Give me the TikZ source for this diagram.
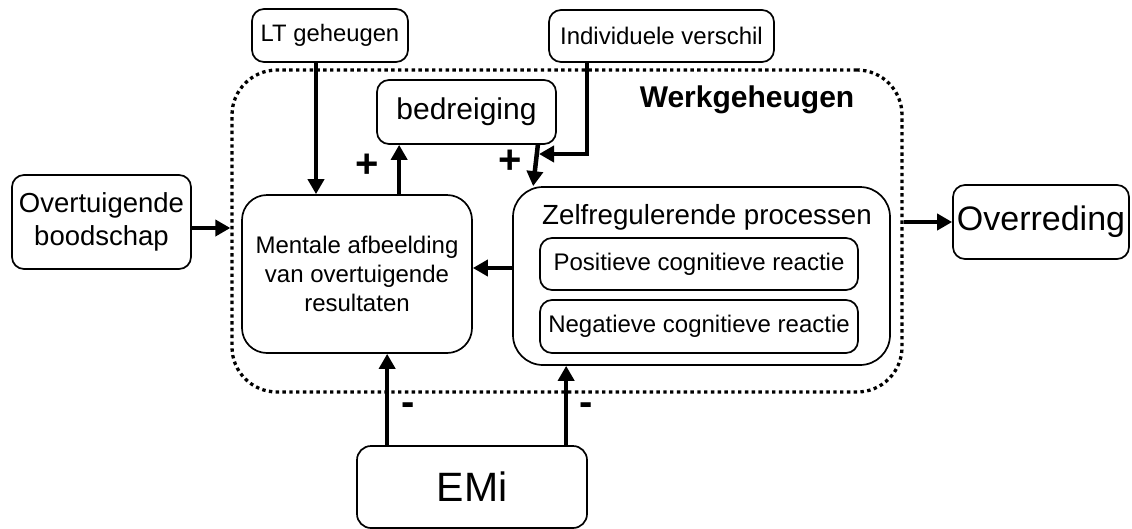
\documentclass[tikz,border=0pt]{standalone}
\usepackage{fontspec}
\setmainfont{Liberation Sans}
\usetikzlibrary{arrows.meta,calc}
\begin{document}
\begin{tikzpicture}[x=1pt,y=-1pt,
  box/.style={draw,line width=1.7pt,rounded corners=12pt,inner sep=0pt,align=center},
  arr/.style={line width=4.5pt,-{Triangle[length=15pt,width=16pt]}},
  sgn/.style={font=\fontsize{40}{40}\selectfont\bfseries,inner sep=0pt}
]
\useasboundingbox (0,0) rectangle (1132,528);
% container
\node[draw,line width=3.3pt,dash pattern=on 3.4pt off 3.4pt,rounded corners=45pt,minimum width=670pt,minimum height=322pt,inner sep=0pt] (wg) at (567,231) {};
\node[font=\fontsize{30}{30}\selectfont\bfseries,inner sep=0pt] (wgt) at (747,100) {Werkgeheugen};
% boxes
\node[box,minimum width=156pt,minimum height=53pt,font=\fontsize{23.8}{26}\selectfont] (lt) at (330,35.5) {LT geheugen};
\node[box,minimum width=225pt,minimum height=52pt,font=\fontsize{24}{28}\selectfont] (ind) at (661.5,36) {Individuele verschil};
\node[box,minimum width=179pt,minimum height=64pt,font=\fontsize{30}{34}\selectfont] (bed) at (466.5,112) {bedreiging};
\node[box,minimum width=179pt,minimum height=94pt,font=\fontsize{27.5}{33}\selectfont] (boo) at (101.5,222) {Overtuigende\\boodschap};
\node[box,rounded corners=25pt,minimum width=230pt,minimum height=158pt,font=\fontsize{24}{29}\selectfont] (men) at (357,274) {Mentale afbeelding\\van overtuigende\\resultaten};
\node[box,rounded corners=30pt,minimum width=377pt,minimum height=178pt] (zel) at (701.5,276) {};
\node[inner sep=0pt,font=\fontsize{27.7}{32}\selectfont] (zelt) at (707,217) {Zelfregulerende processen};
\node[box,minimum width=318pt,minimum height=52pt,font=\fontsize{24}{28}\selectfont] (pos) at (699,264) {Positieve cognitieve reactie};
\node[box,minimum width=318pt,minimum height=53pt,font=\fontsize{24}{28}\selectfont] (neg) at (699,326.5) {Negatieve cognitieve reactie};
\node[box,minimum width=176pt,minimum height=74pt,font=\fontsize{34}{38}\selectfont] (ove) at (1041,222) {Overreding};
\node[box,rounded corners=14pt,minimum width=230pt,minimum height=82pt,font=\fontsize{41}{45}\selectfont] (emi) at (472,487) {EMi};
% coordinates
\coordinate (ltS) at ([xshift=-14pt]lt.south);
\coordinate (menN) at ([xshift=158pt]men.north west);
\coordinate (bedS) at ([xshift=-19pt]bed.south east);
\coordinate (zelN) at ([xshift=21pt]zel.north west);
\coordinate (indS) at ([xshift=39pt]ind.south west);
\coordinate (ij) at (539,154);
\coordinate (e1) at ([xshift=31pt]emi.north west);
\coordinate (e2) at ([xshift=210pt]emi.north west);
% connectors
\draw[arr] (ltS) -- (ltS |- men.north);
\draw[arr] (menN) -- (menN |- bed.south);
\draw[arr] (bedS) -- (zelN);
\draw[arr] (indS) |- (ij);
\draw[arr] ([yshift=-6pt]boo.east) -- ([yshift=-6pt]boo.east -| wg.west);
\draw[arr] ([yshift=8pt]zel.west) -- ([yshift=8pt]zel.west -| men.east);
\draw[arr] (ove.west -| wg.east) -- (ove.west);
\draw[arr] (e1) -- (e1 |- men.south);
\draw[arr] (e2) -- (e2 |- zel.south);
% signs
\node[sgn] (p1) at (367,166) {+};
\node[sgn] (p2) at (510,162) {+};
\node[sgn] (m1) at (408,409) {-};
\node[sgn] (m2) at (586,409) {-};
\end{tikzpicture}
\end{document}
